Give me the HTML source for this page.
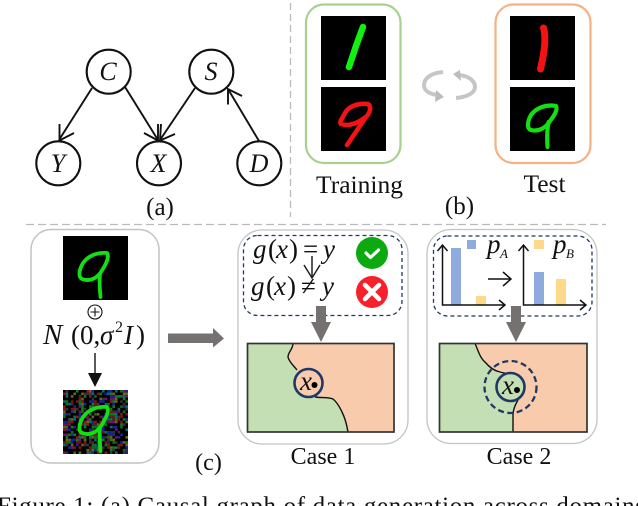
<!DOCTYPE html>
<html><head><meta charset="utf-8"><style>
html,body{margin:0;padding:0;background:#fff;width:638px;height:506px;overflow:hidden}
svg{display:block;filter:blur(.3px)}
text{font-family:"Liberation Serif",serif;fill:#111}
.i{font-style:italic}
</style></head><body>
<svg xmlns="http://www.w3.org/2000/svg" width="638" height="506" viewBox="0 0 638 506">
<!-- separators -->
<line x1="290.5" y1="3" x2="290.5" y2="217" stroke="#bbb" stroke-width="1.3" stroke-dasharray="7 4"/>
<line x1="26" y1="224.5" x2="606" y2="224.5" stroke="#bbb" stroke-width="1.3" stroke-dasharray="8 4"/>
<!-- (a) -->
<g fill="none" stroke="#111" stroke-width="1.9">
<circle cx="108.7" cy="71.7" r="22" stroke-width="2.1"/><circle cx="211.3" cy="71.7" r="22" stroke-width="2.1"/>
<circle cx="58.3" cy="163.3" r="22" stroke-width="2.1"/><circle cx="159" cy="163.3" r="22" stroke-width="2.1"/><circle cx="259.3" cy="163.3" r="22" stroke-width="2.1"/>
<path d="M92 88L59 140M59.500 124V140.500L74 133"/>
<path d="M125 87L158 140M144 133L158 140.500V124"/>
<path d="M195 88L160 140M175 134L160 140.500L161 124"/>
<path d="M259 141L228 89M228 104.500L228 89L242 96"/>
</g>
<g font-size="26" text-anchor="middle">
<text x="108" y="80" class="i">C</text><text x="211" y="80" class="i">S</text>
<text x="58" y="172" class="i">Y</text><text x="158.500" y="172" class="i">X</text><text x="259" y="172" class="i">D</text>
</g>
<text x="160" y="215" font-size="25" text-anchor="middle">(a)</text>
<!-- (b) -->
<rect x="306" y="4.500" width="94.500" height="158.500" rx="18" fill="#fff" stroke="#a9d18e" stroke-width="2.2"/>
<rect x="495.500" y="4.500" width="95" height="158.500" rx="18" fill="#fff" stroke="#f4b183" stroke-width="2.2"/>
<g fill="#000"><rect x="321" y="16" width="65" height="64"/><rect x="321" y="87" width="65" height="64"/><rect x="510" y="16" width="65" height="64"/><rect x="510" y="87" width="65" height="64"/></g>
<g fill="none" stroke-linecap="round" stroke-linejoin="round">
<path d="M363 27L356 46L349 67" stroke="#12f012" stroke-width="6.500"/>
<path d="M368 104C358 103 349 106 345 113C342 119 339 122 341 124C350 127 360 122 367 116C371 111 371 106 368 104M366 117L347 145" stroke="#f41212" stroke-width="4.600"/>
<path d="M543.500 28C546 36 545 50 540.500 69" stroke="#f41212" stroke-width="7"/>
<path d="M556 106C546 104 536 108 531 115C527 122 527 129 531 130C538 132 546 128 550 121C554 116 558 110 556 106M548.500 122C547 130 547 140 547.500 147" stroke="#12e012" stroke-width="4.200"/>
</g>
<g fill="none" stroke="#c6c6c6" stroke-width="4">
<path d="M443 72C430 73 424 79 424 85C424 91 430 94 437 95"/>
<path d="M459 75C469 76 475 81 475 87C475 93 467 97 456 98"/>
</g>
<path d="M436 90L444 97L435 102Z M460 70L453 74L461 81Z" fill="#bcbcbc"/>
<text x="359.500" y="193" font-size="25.500" text-anchor="middle">Training</text>
<text x="544.500" y="192" font-size="25.500" text-anchor="middle">Test</text>
<text x="459.500" y="214" font-size="25" text-anchor="middle">(b)</text>
<!-- (c) left -->
<rect x="31" y="229.500" width="128" height="233.500" rx="20" fill="#fff" stroke="#c4c4c4" stroke-width="1.500"/>
<rect x="63" y="236" width="65" height="64" fill="#000"/>
<g id="noise"></g>
<g fill="none" stroke="#12e012" stroke-linecap="round" stroke-linejoin="round" stroke-width="3.800">
<path d="M107 253C97 252 88 256 83 263C79 270 78 277 82 279C90 282 97 278 101 272C105 266 110 257 107 253M100 274C99 282 100 290 100.500 297"/>
<path d="M107 407C97 406 88 410 83 417C79 424 78 431 82 433C90 436 97 432 101 426C105 420 110 411 107 407M100 428C99 436 100 444 100.500 451"/>
</g>
<circle cx="95" cy="312" r="7" fill="none" stroke="#111" stroke-width="1.100"/>
<path d="M95 307.500V316.500M90.500 312H99.500" stroke="#111" stroke-width="1.100"/>
<text x="43" y="344" font-size="29" class="i">N</text>
<text x="71" y="344" font-size="27">(0,</text>
<text x="100" y="344" font-size="27" class="i">σ</text>
<text x="115" y="332" font-size="16">2</text>
<text x="124" y="344" font-size="27" class="i">I</text>
<text x="136" y="344" font-size="27">)</text>
<line x1="95" y1="353" x2="95" y2="374" stroke="#222" stroke-width="1.500"/>
<path d="M88 373H102L95 387Z" fill="#111"/>
<path d="M168 333.500H213V328L224 338.500L213 347.500V343H168Z" fill="#767171"/>
<text x="208.500" y="470" font-size="24" text-anchor="middle">(c)</text>
<!-- Case 1 -->
<rect x="238" y="230" width="170" height="214" rx="24" fill="#fff" stroke="#c4c4c4" stroke-width="1.300"/>
<rect x="243.500" y="235.500" width="158.500" height="80" rx="14" fill="none" stroke="#1f3864" stroke-width="1.300" stroke-dasharray="4 3"/>
<text x="253" y="258" font-size="27" class="i">g</text><text x="268" y="258" font-size="27">(</text><text x="276" y="258" font-size="27" class="i">x</text><text x="289" y="258" font-size="27">)</text><text x="303" y="258" font-size="27">=</text><text x="323" y="258" font-size="27" class="i">y</text>
<text x="251" y="295" font-size="27" class="i">g</text><text x="266" y="295" font-size="27">(</text><text x="274" y="295" font-size="27" class="i">x</text><text x="287" y="295" font-size="27">)</text><text x="301" y="295" font-size="27">≠</text><text x="322" y="295" font-size="27" class="i">y</text>
<path d="M312 256V278M304 265L312 278L320 265" fill="none" stroke="#222" stroke-width="1.500"/>
<circle cx="372" cy="253" r="16" fill="#0caa10"/>
<path d="M366 253L370.500 257.500L378.500 250" fill="none" stroke="#fff" stroke-width="3.200" stroke-linecap="round" stroke-linejoin="round"/>
<circle cx="372" cy="292" r="16" fill="#f8212b"/>
<path d="M365 285L379 299M379 285L365 299" stroke="#fff" stroke-width="4.500" stroke-linecap="round"/>
<path d="M316 306H326V322H331L321 342L311 322H316Z" fill="#767171"/>
<rect x="247.500" y="343.500" width="146.500" height="88.500" fill="#f8cbad"/>
<path d="M247.500 343.500H293C293 349 288 352 288 357C289 362 294 366 297 370C301 378 306 394 315 397C322 398 329 397 333 399C338 403 340 408 342 412C345 418 347 426 348 432H247.500Z" fill="#c5dfb4"/>
<path d="M293 343.500C293 349 288 352 288 357C289 362 294 366 297 370M315 397C322 398 329 397 333 399C338 403 340 408 342 412C345 418 347 426 348 432" fill="none" stroke="#111" stroke-width="1.400"/>
<rect x="247.500" y="343.500" width="146.500" height="88.500" fill="none" stroke="#333" stroke-width="1.700"/>
<circle cx="308.500" cy="383" r="14" fill="#f8cbad" stroke="#1f3864" stroke-width="2.600"/>
<text x="300" y="390" font-size="27" class="i">x</text><circle cx="314.500" cy="385" r="3" fill="#000"/>
<text x="323" y="464" font-size="24" text-anchor="middle">Case 1</text>
<!-- Case 2 -->
<rect x="427" y="229.500" width="170" height="214" rx="24" fill="#fff" stroke="#c4c4c4" stroke-width="1.300"/>
<rect x="433.500" y="236" width="158.500" height="80" rx="14" fill="none" stroke="#1f3864" stroke-width="1.300" stroke-dasharray="4 3"/>
<g fill="#8faadc"><rect x="451" y="248" width="10" height="57"/><rect x="467" y="240" width="9" height="9"/><rect x="534" y="272" width="10" height="33"/></g>
<g fill="#ffd98a"><rect x="476" y="296" width="10" height="9"/><rect x="534" y="240" width="10" height="9"/><rect x="556" y="279" width="10" height="26"/></g>
<g fill="none" stroke="#111" stroke-width="1.500">
<path d="M442.500 245V305H505M437.500 251L442.500 245L447.500 251M499 300L505 305L499 310"/>
<path d="M523.500 245V305H586M518.500 251L523.500 245L528.500 251M580 300L586 305L580 310"/>
<path d="M488 279H511M503 272L511 279L503 286"/>
</g>
<text x="487" y="253" font-size="27" class="i">p</text><text x="500" y="258" font-size="13" class="i">A</text>
<text x="553" y="253" font-size="27" class="i">p</text><text x="566" y="258" font-size="13" class="i">B</text>
<path d="M511 306H521V322H526L516 342L506 322H511Z" fill="#767171"/>
<rect x="439.500" y="343.500" width="147.500" height="88.500" fill="#f8cbad"/>
<path d="M439.500 343.500H475C478 350 480 358 485 362C490 368 495 371 500 372C507 374 513 374 517 377C523 382 521 395 518 400C515 405 513 410 513 415V432H439.500Z" fill="#c5dfb4"/>
<path d="M475 343.500C478 350 480 358 485 362C490 368 495 371 500 372C507 374 513 374 517 377C520 379 521 382 521 385M518 400C515 405 513 410 513 415V432" fill="none" stroke="#111" stroke-width="1.400"/>
<rect x="439.500" y="343.500" width="147.500" height="88.500" fill="none" stroke="#333" stroke-width="1.700"/>
<circle cx="510.500" cy="387" r="26" fill="none" stroke="#1f3864" stroke-width="2.300" stroke-dasharray="6 3.500"/>
<circle cx="510.500" cy="387" r="14" fill="#c5dfb4" stroke="#1f3864" stroke-width="2.600"/>
<text x="502" y="394" font-size="27" class="i">x</text><circle cx="517" cy="390" r="3" fill="#000"/>
<text x="519" y="464" font-size="24" text-anchor="middle">Case 2</text>
<!-- caption -->
<text x="-3" y="514" font-size="25" textLength="648" lengthAdjust="spacing">Figure 1: (a) Causal graph of data generation across domains</text>
</svg>
<script>
(function(){var g=document.getElementById('noise'),s='<rect x="63" y="390" width="65" height="64" fill="#000"/>',r=12345,c=['#7a1418','#14701f','#182490','#701470','#0c6c6c','#706418','#333','#8a1818','#187a24','#18249a'];
function n(){r=(r*1103515245+12345)&2147483647;return r/2147483647}
for(var y=0;y<25;y++)for(var x=0;x<25;x++){if(n()<.55){s+='<rect x="'+(63+x*2.6)+'" y="'+(390+y*2.56)+'" width="2.6" height="2.56" fill="'+c[Math.floor(n()*c.length)]+'"/>'}}
g.innerHTML=s})();
</script>
</body></html>
